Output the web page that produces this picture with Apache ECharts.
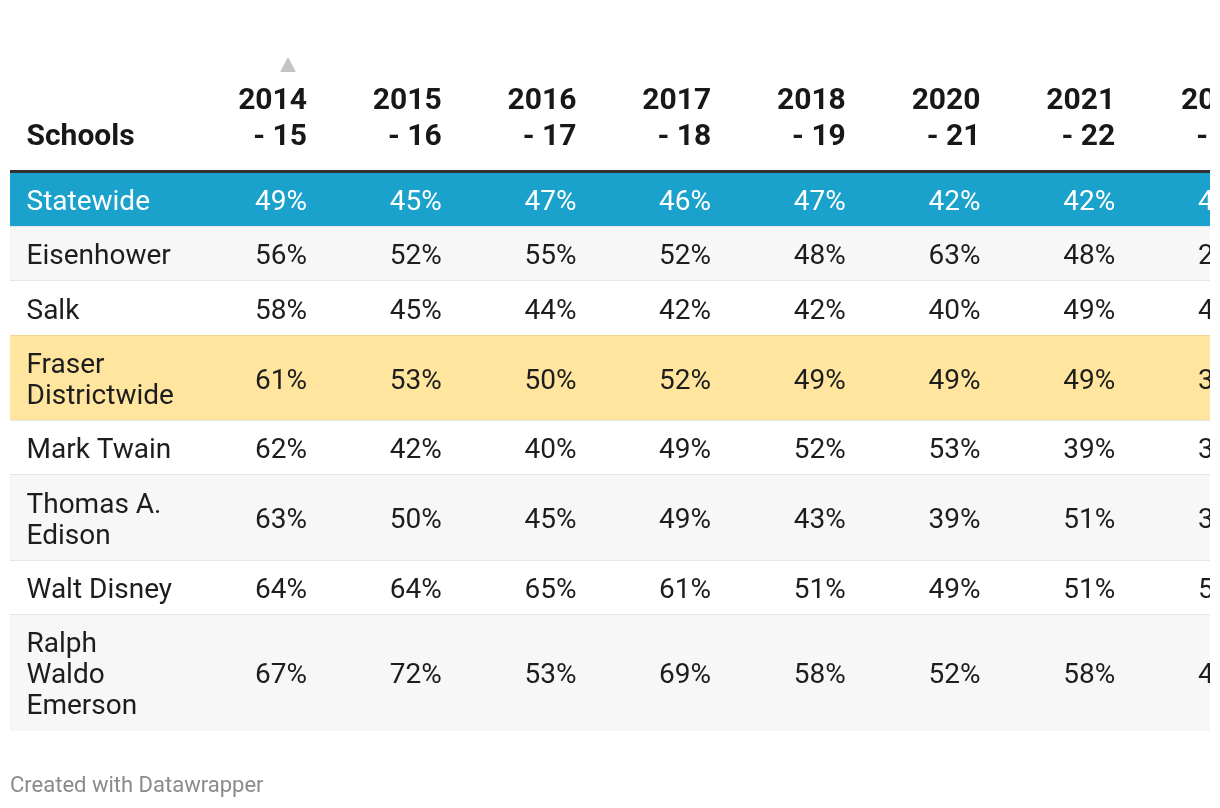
<!DOCTYPE html>
<html><head><meta charset="utf-8">
<script src="https://cdn.jsdelivr.net/npm/echarts@6/dist/echarts.min.js"></script>
<style>html,body{margin:0;padding:0;background:#fff}#chart{width:1220px;height:808px}</style>
</head><body><div id="chart"></div>
<script>
// ---------- DATA ----------
const schools = ["Statewide", "Eisenhower", "Salk", "Fraser\nDistrictwide", "Mark Twain",
                 "Thomas A.\nEdison", "Walt Disney", "Ralph\nWaldo\nEmerson"];
const years = ["2014 - 15", "2015 - 16", "2016 - 17", "2017 - 18", "2018 - 19", "2020 - 21", "2021 - 22", "2022 - 23"];
const v2014_15 = [49, 56, 58, 61, 62, 63, 64, 67];
const v2015_16 = [45, 52, 45, 53, 42, 50, 64, 72];
const v2016_17 = [47, 55, 44, 50, 40, 45, 65, 53];
const v2017_18 = [46, 52, 42, 52, 49, 49, 61, 69];
const v2018_19 = [47, 48, 42, 49, 52, 43, 51, 58];
const v2020_21 = [42, 63, 40, 49, 53, 39, 49, 52];
const v2021_22 = [42, 48, 49, 49, 39, 51, 51, 58];
const v2022_23 = [43, 28, 45, 38, 36, 35, 52, 47]; // only first digit visible (clipped)
const columns = [v2014_15, v2015_16, v2016_17, v2017_18, v2018_19, v2020_21, v2021_22, v2022_23];
const headerLabel = "Schools";
const footer = "Created with Datawrapper";

// ---------- STYLE / LAYOUT ----------
const FONT = 'Roboto, "Noto Sans", sans-serif';
const ROW_PAD = 23, LINE_H = 31.2, TEXT_LH = 31, TEXT_DY = 3;
const HEADER_H = 173;
const SCHOOL_W = 162.3, COL_W = 134.7, TEXT_PAD_L = 16.5;
const rowStyle = { 0: { bg: '#1aa1cc', color: '#ffffff' }, 3: { bg: '#ffe59e', color: '#1d1d1d', top: '#f1d68b' } };

const rowH = schools.map(s => ROW_PAD + LINE_H * s.split('\n').length);
const rowTop = [];
rowH.reduce((acc, h, i) => { rowTop[i] = acc; return acc + h; }, 0);
const totalH = rowH.reduce((a, b) => a + b, 0);
const colRight = j => SCHOOL_W + COL_W * (j + 1);

const rowData = schools.map((s, i) => [i].concat(columns.map(c => c[i])));

function renderRow(params, api) {
  const i = api.value(0);
  const cs = params.coordSys;
  const y0 = Math.round(api.coord([0, rowTop[i]])[1]);
  const y1 = Math.round(api.coord([0, rowTop[i] + rowH[i]])[1]);
  const st = rowStyle[i] || { bg: (i % 2 === 1 ? '#f7f7f7' : '#ffffff'), color: '#1d1d1d' };
  const children = [
    { type: 'rect', shape: { x: cs.x, y: y0, width: cs.width, height: y1 - y0 }, style: { fill: st.bg } }
  ];
  if (i < schools.length - 1) {
    children.push({ type: 'rect', shape: { x: cs.x, y: y1 - 1, width: cs.width, height: 1 }, style: { fill: '#e6e6e6' } });
  }
  if (st.top) {
    children.push({ type: 'rect', shape: { x: cs.x, y: y0 - 1, width: cs.width, height: 1 }, style: { fill: st.top } });
  }
  const ym = (y0 + y1) / 2 + TEXT_DY;
  children.push({ type: 'text', style: {
    x: api.coord([TEXT_PAD_L, 0])[0], y: ym, text: schools[i], fill: st.color,
    fontFamily: FONT, fontSize: 28, lineHeight: TEXT_LH, align: 'left', verticalAlign: 'middle' } });
  for (let j = 0; j < columns.length; j++) {
    children.push({ type: 'text', style: {
      x: api.coord([colRight(j), 0])[0], y: ym, text: api.value(j + 1) + '%', fill: st.color,
      fontFamily: FONT, fontSize: 28, lineHeight: TEXT_LH, align: 'right', verticalAlign: 'middle' } });
  }
  return { type: 'group', children };
}

function renderHeader(params, api) {
  const cs = params.coordSys;
  const yb = api.coord([0, -18])[1];
  const children = [];
  const hStyle = { fill: '#181818', fontFamily: FONT, fontSize: 30, fontWeight: 'bold', lineHeight: 36, verticalAlign: 'bottom' };
  children.push({ type: 'text', style: Object.assign({ x: api.coord([TEXT_PAD_L, 0])[0], y: yb, text: headerLabel, align: 'left' }, hStyle) });
  years.forEach((y, j) => {
    children.push({ type: 'text', style: Object.assign({ x: api.coord([colRight(j), 0])[0], y: yb, text: y.replace(' - ', '\n- '), align: 'right' }, hStyle) });
  });
  // thick header rule
  const r0 = api.coord([0, -3])[1], r1 = api.coord([0, 0])[1];
  children.push({ type: 'rect', shape: { x: cs.x, y: r0, width: cs.width, height: r1 - r0 }, style: { fill: '#333333' } });
  // sort indicator on first year column
  const cx = api.coord([colRight(0) - 19, 0])[0];
  const tb = api.coord([0, -101])[1], tt = api.coord([0, -116])[1];
  children.push({ type: 'polygon', shape: { points: [[cx - 8, tb], [cx + 8, tb], [cx, tt]] }, style: { fill: '#c4c4c4' } });
  return { type: 'group', children };
}

const chart = echarts.init(document.getElementById('chart'), null, { renderer: 'canvas' });
chart.setOption({
  animation: false,
  backgroundColor: '#ffffff',
  title: { text: footer, left: 10, top: 775, padding: 0, textStyle: { fontFamily: FONT, fontSize: 22, fontWeight: 'normal', color: '#8a8a8a' } },
  grid: { left: 10, right: 10, top: 0, height: HEADER_H + totalH, containLabel: false },
  xAxis: { type: 'value', min: 0, max: 1200, show: false },
  yAxis: { type: 'value', inverse: true, min: -HEADER_H, max: totalH, show: false },
  series: [
    { type: 'custom', clip: true, silent: true, renderItem: renderRow, data: rowData },
    { type: 'custom', clip: true, silent: true, renderItem: renderHeader, data: [[0, 0]] }
  ]
});
</script></body></html>
